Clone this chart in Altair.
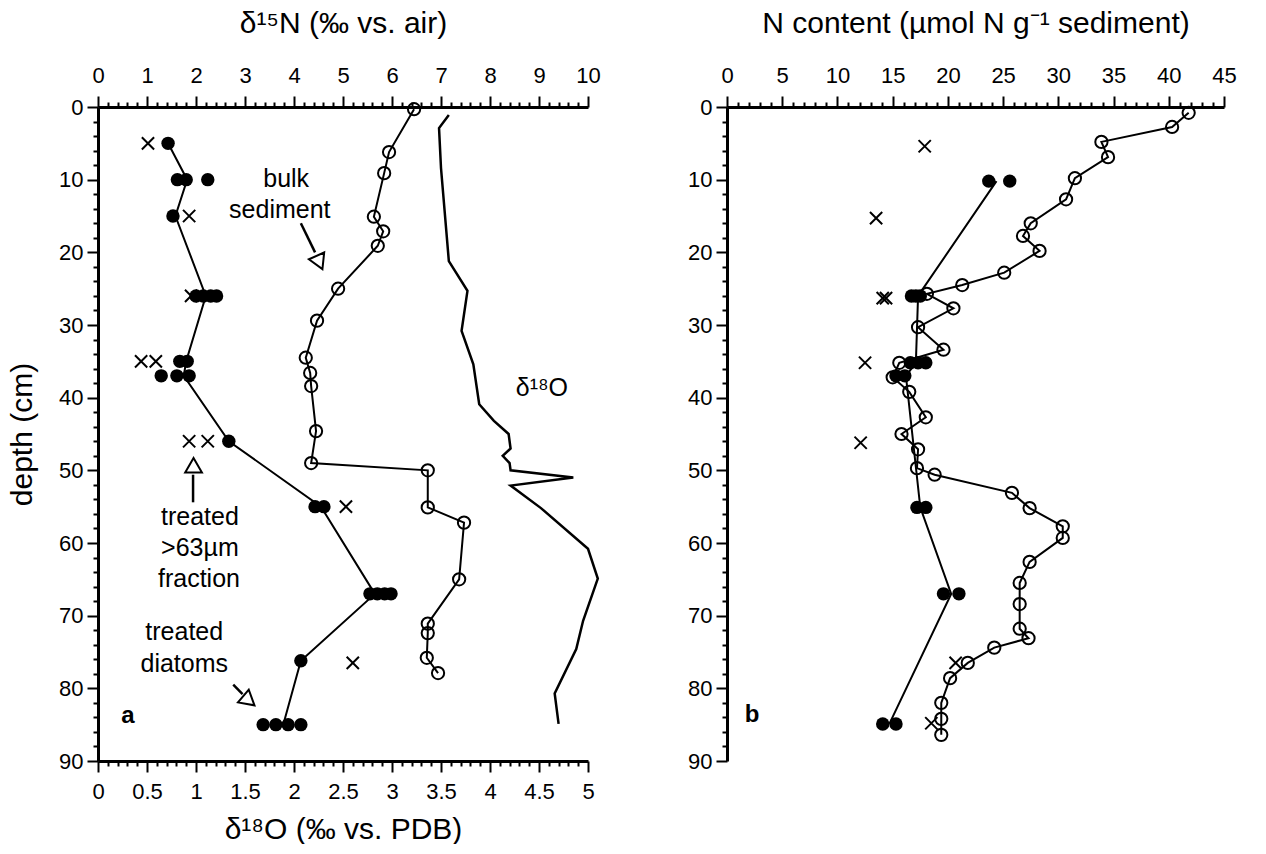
import altair as alt
import pandas as pd

FONT = "Liberation Sans"

# ---------------- Panel a : δ15N (top axis) and δ18O (bottom axis) ----------------
diat_a_depth = [5, 10, 10, 10, 15, 26, 26, 26, 26, 35, 35, 37, 37, 37, 46, 55, 55,
                67, 67, 67, 67, 76.2, 85, 85, 85, 85]
diat_a_d15n = [1.43, 1.62, 1.8, 2.24, 1.53, 2.0, 2.15, 2.3, 2.42, 1.67, 1.82, 1.29, 1.61, 1.86,
               2.67, 4.43, 4.61, 5.55, 5.7, 5.85, 5.98, 4.14, 3.37, 3.63, 3.88, 4.14]
diat_a_line_depth = [5, 10, 15, 26, 35, 37, 46, 55, 67, 76.2, 85]
diat_a_line_d15n = [1.43, 1.82, 1.58, 2.2, 1.8, 1.75, 2.67, 4.55, 5.65, 4.14, 3.78]

frac_a_depth = [5, 15, 26, 35, 35, 46, 46, 55, 76.5]
frac_a_d15n = [1.02, 1.86, 1.9, 0.88, 1.18, 1.86, 2.24, 5.06, 5.2]

bulk_a_depth = [0.3, 6.2, 9.1, 15.1, 17.1, 19.1, 25, 29.4, 34.5, 36.6, 38.4, 44.6, 49, 50,
                55.1, 57.2, 65, 71.1, 72.4, 75.8, 77.9]
bulk_a_d15n = [6.45, 5.94, 5.84, 5.63, 5.82, 5.71, 4.9, 4.47, 4.24, 4.33, 4.35, 4.45, 4.35,
               6.73, 6.73, 7.47, 7.37, 6.73, 6.73, 6.71, 6.94]

d18o_depth = [1.1, 2.9, 8.4, 21.2, 25.3, 30.8, 35.4, 40.9, 43.2, 45, 47, 48, 49, 50, 51,
              52.1, 55.2, 60.8, 64.9, 70.7, 74.6, 80.7, 84.9]
d18o_val = [3.58, 3.48, 3.50, 3.58, 3.77, 3.71, 3.83, 3.89, 4.04, 4.19, 4.21, 4.13, 4.20,
            4.21, 4.85, 4.21, 4.52, 5.0, 5.10, 4.95, 4.88, 4.66, 4.70]

# annotations of panel a (δ15N units, depth)
ann_text = ["bulk", "sediment", "treated", ">63µm", "fraction", "treated", "diatoms", "δ¹⁸O"]
ann_x = [3.84, 3.71, 2.08, 2.08, 2.06, 1.76, 1.76, 9.06]
ann_depth = [9.9, 14.2, 56.4, 60.7, 65.0, 72.2, 76.6, 38.7]

arrow_x = [4.14, 1.94, 2.76]
arrow_x2 = [4.43, 1.94, 2.95]
arrow_depth = [16.0, 54.4, 79.5]
arrow_depth2 = [20.0, 50.6, 80.8]
head_x = [4.52, 1.95, 3.08]
head_depth = [21.4, 49.3, 81.7]
head_angle = [156, 0, 130]

# ---------------- Panel b : N content ----------------
bulk_b_depth = [0.8, 2.75, 4.8, 6.9, 9.8, 12.7, 16.0, 17.75, 19.8, 22.8, 24.5, 25.7, 27.7,
                30.3, 33.4, 35.2, 37.2, 39.2, 42.7, 45.0, 47.1, 49.7, 50.6, 53.1, 55.2, 57.7,
                59.3, 62.6, 65.5, 68.4, 71.8, 73.1, 74.4, 76.5, 78.6, 82.0, 84.2, 86.4]
bulk_b_n = [41.8, 40.3, 33.9, 34.5, 31.5, 30.7, 27.5, 26.8, 28.3, 25.1, 21.3, 18.1, 20.5,
            17.3, 19.6, 15.6, 15.0, 16.5, 18.0, 15.8, 17.3, 17.2, 18.8, 25.8, 27.4, 30.4,
            30.4, 27.4, 26.5, 26.5, 26.5, 27.3, 24.2, 21.8, 20.2, 19.4, 19.4, 19.4]

diat_b_depth = [10.2, 10.2, 26, 26, 26, 35.2, 35.2, 35.2, 37, 37, 55.1, 55.1, 67, 67, 84.9, 84.9]
diat_b_n = [23.7, 25.6, 16.7, 17.1, 17.5, 16.6, 17.3, 18.0, 15.3, 16.1, 17.2, 18.0, 19.6,
            21.0, 14.1, 15.3]
diat_b_line_depth = [10.2, 26, 35.2, 37, 55.1, 67, 84.9]
diat_b_line_n = [24.4, 17.3, 17.1, 16.2, 17.5, 20.3, 14.7]

frac_b_depth = [5.4, 15.3, 26.3, 26.3, 35.2, 46.2, 76.5, 84.8]
frac_b_n = [17.9, 13.5, 14.1, 14.4, 12.5, 12.1, 20.7, 18.5]

# ---------------- helpers ----------------
XSHAPE = "M-1,-1L1,1M-1,1L1,-1"


def mk_axis(orient, values, major_test, title, title_pad=10, label_pad=4, label_size=22):
    kw = dict(
        orient=orient,
        values=values,
        labelExpr=f"({major_test}) ? ('' + datum.value) : ''",
        tickSize={"condition": {"test": major_test, "value": 11}, "value": 5},
        labelOverlap=False,
        labelFlush=False,
        grid=False,
        domainWidth=3,
        domainColor="black",
        tickWidth=2,
        tickColor="black",
        labelFont=FONT,
        labelFontSize=label_size,
        labelColor="black",
        labelPadding=label_pad,
        titleFont=FONT,
        titleFontSize=30,
        titleFontWeight="normal",
        titleColor="black",
        titlePadding=title_pad,
    )
    return alt.Axis(title=title, **kw)


y_vals = list(range(0, 91, 2))
y_test = "datum.value % 10 === 0"
y_scale = alt.Scale(domain=[0, 90], reverse=True, nice=False, zero=False)
y_axis_a = mk_axis("left", y_vals, y_test, "depth (cm)", title_pad=21, label_pad=4)
y_axis_b = mk_axis("left", y_vals, y_test, None, label_pad=4)

n15_vals = [round(i * 0.2, 1) for i in range(51)]
n15_test = "abs(datum.value - round(datum.value)) < 0.01"
n15_scale = alt.Scale(domain=[0, 10], nice=False, zero=False)
n15_axis = mk_axis("top", n15_vals, n15_test, "δ¹⁵N (‰ vs. air)", title_pad=26, label_pad=9)

o18_vals = [round(i * 0.1, 1) for i in range(51)]
o18_test = "abs(datum.value * 2 - round(datum.value * 2)) < 0.01"
o18_scale = alt.Scale(domain=[0, 5], nice=False, zero=False)
o18_axis = mk_axis("bottom", o18_vals, o18_test, "δ¹⁸O (‰ vs. PDB)", title_pad=12, label_pad=9)

nb_vals = list(range(0, 46))
nb_test = "datum.value % 5 === 0"
nb_scale = alt.Scale(domain=[0, 45], nice=False, zero=False)
nb_axis = mk_axis("top", nb_vals, nb_test, "N content (µmol N g⁻¹ sediment)", title_pad=26, label_pad=9)


def X(field, scale, axis):
    return alt.X(f"{field}:Q", scale=scale, axis=axis)


def Y(axis):
    return alt.Y("depth:Q", scale=y_scale, axis=axis)


def build_panel(xs, xaxis, yaxis, diat, diat_line, frac, bulk):
    df_diat = pd.DataFrame({"depth": diat[0], "v": diat[1]})
    df_dline = pd.DataFrame({"depth": diat_line[0], "v": diat_line[1]})
    df_frac = pd.DataFrame({"depth": frac[0], "v": frac[1]})
    df_bulk = pd.DataFrame({"depth": bulk[0], "v": bulk[1]})

    dline = alt.Chart(df_dline).mark_line(color="black", strokeWidth=2).encode(
        x=X("v", xs, xaxis), y=Y(yaxis), order=alt.Order("depth:Q"))
    dpts = alt.Chart(df_diat).mark_point(filled=True, color="black", size=180, opacity=1,
                                         shape="circle").encode(
        x=X("v", xs, xaxis), y=Y(yaxis))
    fpts = alt.Chart(df_frac).mark_point(shape=XSHAPE, filled=False, color="black",
                                         strokeWidth=2, size=150, opacity=1).encode(
        x=X("v", xs, xaxis), y=Y(yaxis))
    bline = alt.Chart(df_bulk).mark_line(color="black", strokeWidth=2).encode(
        x=X("v", xs, xaxis), y=Y(yaxis), order=alt.Order("depth:Q"))
    bpts = alt.Chart(df_bulk).mark_point(shape="circle", filled=False, color="black",
                                         strokeWidth=2, size=150, opacity=1).encode(
        x=X("v", xs, xaxis), y=Y(yaxis))
    return [dline, dpts, fpts, bline, bpts]


# ---- panel a ----
layers_a = build_panel(n15_scale, n15_axis, y_axis_a,
                       (diat_a_depth, diat_a_d15n), (diat_a_line_depth, diat_a_line_d15n),
                       (frac_a_depth, frac_a_d15n), (bulk_a_depth, bulk_a_d15n))

df_ann = pd.DataFrame({"t": ann_text, "v": ann_x, "depth": ann_depth})
ann = alt.Chart(df_ann).mark_text(font=FONT, fontSize=25, color="black", align="center",
                                  baseline="middle").encode(
    x=X("v", n15_scale, n15_axis), y=Y(y_axis_a), text="t:N")

df_arrow = pd.DataFrame({"v": arrow_x, "v2": arrow_x2, "depth": arrow_depth, "depth2": arrow_depth2})
shafts = alt.Chart(df_arrow).mark_rule(color="black", strokeWidth=2.5).encode(
    x=X("v", n15_scale, n15_axis), x2="v2:Q", y=Y(y_axis_a), y2="depth2:Q")

df_head = pd.DataFrame({"v": head_x, "depth": head_depth, "ang": head_angle})
heads = alt.Chart(df_head).mark_point(shape="triangle-up", filled=True, fill="white",
                                      stroke="black", strokeWidth=2, size=280, opacity=1).encode(
    x=X("v", n15_scale, n15_axis), y=Y(y_axis_a), angle=alt.Angle("ang:Q", scale=None))

lab_a = alt.Chart(pd.DataFrame({"t": ["a"], "v": [0.61], "depth": [83.8]})).mark_text(
    font=FONT, fontSize=24, fontWeight="bold", color="black", align="center",
    baseline="middle").encode(x=X("v", n15_scale, n15_axis), y=Y(y_axis_a), text="t:N")

inner_a = alt.layer(*layers_a, shafts, heads, ann, lab_a)

df_o18 = pd.DataFrame({"depth": d18o_depth, "o": d18o_val, "i": list(range(len(d18o_val)))})
o18_line = alt.Chart(df_o18).mark_line(color="black", strokeWidth=2.5).encode(
    x=X("o", o18_scale, o18_axis), y=Y(y_axis_a), order=alt.Order("i:Q"))

panel_a = alt.layer(inner_a, o18_line).resolve_scale(x="independent").properties(
    width=490, height=654)

# ---- panel b ----
layers_b = build_panel(nb_scale, nb_axis, y_axis_b,
                       (diat_b_depth, diat_b_n), (diat_b_line_depth, diat_b_line_n),
                       (frac_b_depth, frac_b_n), (bulk_b_depth, bulk_b_n))
lab_b = alt.Chart(pd.DataFrame({"t": ["b"], "v": [2.26], "depth": [83.7]})).mark_text(
    font=FONT, fontSize=24, fontWeight="bold", color="black", align="center",
    baseline="middle").encode(x=X("v", nb_scale, nb_axis), y=Y(y_axis_b), text="t:N")

panel_b = alt.layer(*layers_b, lab_b).properties(width=497, height=654)

chart = alt.hconcat(panel_a, panel_b, spacing=84).properties(
    padding={"left": 7, "top": 8, "right": 10, "bottom": 0},
    background="white",
).configure_view(strokeWidth=0)

chart.save("out.html", embed_options={"renderer": "svg", "actions": False})
